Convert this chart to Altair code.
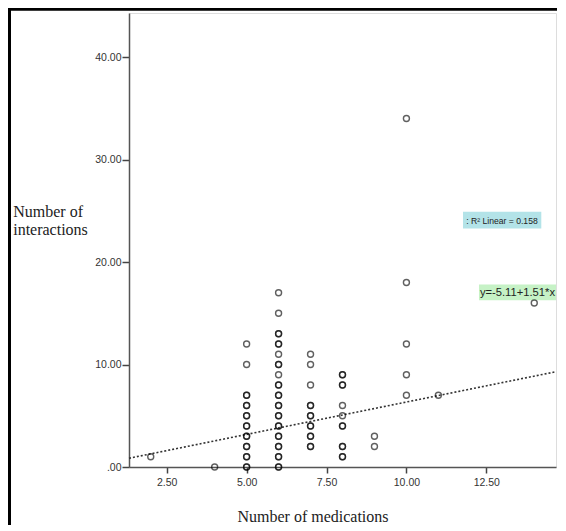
import altair as alt
import pandas as pd

# ---- data ----
med_counts = [2, 4, 5, 6, 7, 8, 9, 10, 11, 14]
interactions_by_med = [
    [1],
    [0],
    [0, 0, 1, 1, 2, 2, 3, 3, 4, 4, 5, 5, 6, 6, 7, 7, 10, 12],
    [0, 0, 1, 1, 2, 2, 3, 3, 4, 4, 5, 5, 6, 6, 7, 7, 8, 8, 9, 10, 10, 11, 12, 12, 13, 13, 15, 17],
    [2, 2, 3, 3, 4, 4, 5, 5, 6, 6, 8, 10, 11],
    [1, 1, 2, 2, 4, 4, 5, 6, 8, 8, 9, 9],
    [2, 3],
    [7, 9, 12, 18, 34],
    [7],
    [16],
]
fit_intercept = 0.02
fit_slope = 0.632
x_domain = [1.32, 14.68]
y_domain = [0, 44.3]
x_ticks = [2.5, 5, 7.5, 10, 12.5]
y_ticks = [0, 10, 20, 30, 40]
r2_label = ": R² Linear = 0.158"
eq_label = "y=-5.11+1.51*x"
r2_box = [11.77, 14.22, 23.27, 24.9]     # x, x2, y, y2
r2_text_pos = [12.99, 24.05]
eq_box = [12.27, 15.0, 16.28, 17.8]
eq_text_pos = [12.3, 17.0]

rows = []
for m, ys in zip(med_counts, interactions_by_med):
    for v in ys:
        rows.append({"meds": m, "inter": v})
pts = pd.DataFrame(rows)

fit = pd.DataFrame({"meds": x_domain,
                    "inter": [fit_intercept + fit_slope * v for v in x_domain]})

sans = "Liberation Sans, Arial, sans-serif"
serif = "Liberation Serif, Times New Roman, serif"

xs = alt.Scale(domain=x_domain, nice=False, zero=False)
ys_ = alt.Scale(domain=y_domain, nice=False, zero=False)

x_axis = alt.Axis(values=x_ticks, labelExpr="format(datum.value, '.2f')",
                  grid=False, tickSize=6, tickWidth=1.5, tickColor="#444",
                  domainColor="#555", domainWidth=1.5,
                  labelFont=sans, labelFontSize=10.5, labelColor="#333", labelPadding=4,
                  title="Number of medications", titleFont=serif, titleFontSize=16,
                  titleFontWeight="normal", titleColor="#222",
                  titleX=183.5, titleY=54, titleAlign="center", titleBaseline="alphabetic")
y_axis = alt.Axis(values=y_ticks,
                  labelExpr="datum.value == 0 ? '.00' : format(datum.value, '.2f')",
                  grid=False, tickSize=7, tickWidth=1.5, tickColor="#444",
                  domainColor="#555", domainWidth=1.5,
                  labelFont=sans, labelFontSize=10.5, labelColor="#333", labelPadding=1,
                  title=["Number of", "interactions"], titleFont=serif, titleFontSize=16,
                  titleFontWeight="normal", titleColor="#222", titleAngle=0,
                  titleAlign="left", titleX=-116.3, titleY=203.4,
                  titleBaseline="alphabetic", titleLineHeight=18.5)

points = alt.Chart(pts).mark_point(shape="circle", filled=False, size=36,
                                   strokeWidth=1.4, color="black", opacity=0.62).encode(
    x=alt.X("meds:Q", scale=xs, axis=x_axis),
    y=alt.Y("inter:Q", scale=ys_, axis=y_axis),
)

line = alt.Chart(fit).mark_line(strokeDash=[2, 2], strokeWidth=1.6, color="#333").encode(
    x=alt.X("meds:Q", scale=xs), y=alt.Y("inter:Q", scale=ys_))

r2_df = pd.DataFrame([{"x": r2_box[0], "x2": r2_box[1], "y": r2_box[2], "y2": r2_box[3],
                       "tx": r2_text_pos[0], "ty": r2_text_pos[1], "label": r2_label}])
eq_df = pd.DataFrame([{"x": eq_box[0], "x2": eq_box[1], "y": eq_box[2], "y2": eq_box[3],
                       "tx": eq_text_pos[0], "ty": eq_text_pos[1], "label": eq_label}])

r2_rect = alt.Chart(r2_df).mark_rect(color="#b3e3e8").encode(
    x=alt.X("x:Q", scale=xs), x2="x2:Q", y=alt.Y("y:Q", scale=ys_), y2="y2:Q")
r2_text = alt.Chart(r2_df).mark_text(font=sans, fontSize=8.6, color="#222",
                                     align="center", baseline="middle").encode(
    x=alt.X("tx:Q", scale=xs), y=alt.Y("ty:Q", scale=ys_), text="label:N")

eq_rect = alt.Chart(eq_df).mark_rect(color="#c6f2c6", clip=True).encode(
    x=alt.X("x:Q", scale=xs), x2="x2:Q", y=alt.Y("y:Q", scale=ys_), y2="y2:Q")
eq_text = alt.Chart(eq_df).mark_text(font=sans, fontSize=11.2, color="#222",
                                     align="left", baseline="middle", clip=True).encode(
    x=alt.X("tx:Q", scale=xs), y=alt.Y("ty:Q", scale=ys_), text="label:N")

frame = alt.Chart(r2_df).mark_rect(fill="transparent", stroke="black", strokeWidth=3).encode(
    x=alt.value(-119.5), x2=alt.value(700), y=alt.value(-3.8), y2=alt.value(700))

chart = alt.layer(r2_rect, eq_rect, line, points, r2_text, eq_text, frame).properties(
    width=427, height=454,
    padding={"left": 121, "top": 5, "right": 1, "bottom": 58},
    autosize=alt.AutoSizeParams(type="none"),
).configure_view(stroke="#8a8a8a", strokeWidth=1.5).configure(background="white")

chart.save("out.html", embed_options={"renderer": "svg", "actions": False})
